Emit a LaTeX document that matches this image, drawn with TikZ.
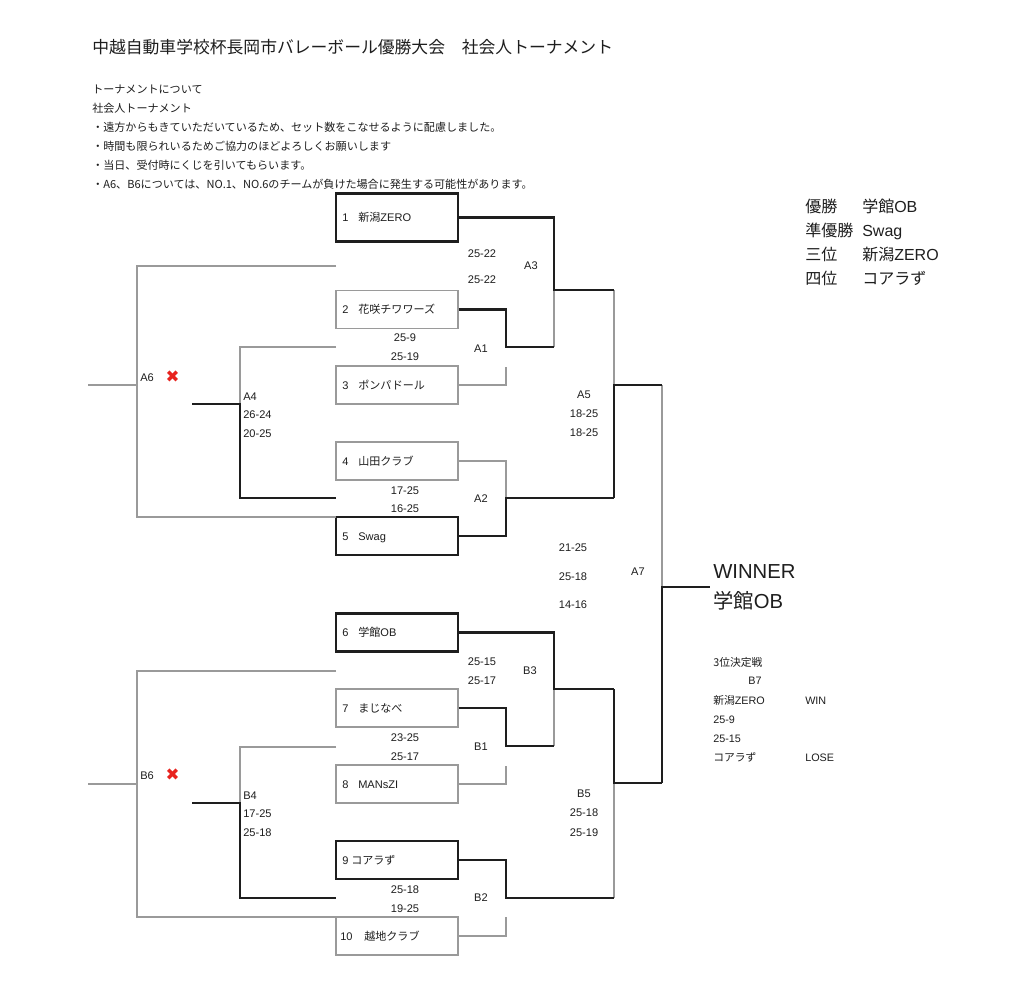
\documentclass[tikz,border=0pt]{standalone}
\usepackage{fontspec}
\setmainfont{Liberation Sans}
\newfontfamily\jp{Noto Sans CJK JP}
\newfontfamily\dv{DejaVu Sans}
\definecolor{lgray}{HTML}{9A9A9A}
\definecolor{ink}{HTML}{1E1E1E}
\definecolor{xred}{HTML}{E8231E}
\tikzset{
  thinbox/.style={draw=lgray, line width=0.8pt, minimum width=91.5pt, minimum height=28.5pt, inner sep=0pt},
  thickbox/.style={draw=ink, line width=1.8pt, minimum width=91.5pt, minimum height=28.5pt, inner sep=0pt},
  thn/.style={draw=lgray, line width=0.8pt},
  thk/.style={draw=ink, line width=1.7pt, line join=miter},
  lbl/.style={inner sep=0pt, text=ink, anchor=base, font=\fontsize{8.3}{10}\selectfont},
  lbw/.style={lbl, anchor=base west},
  note/.style={inner sep=0pt, text=ink, anchor=base west, font=\fontsize{8.3}{10}\selectfont\jp},
  big/.style={inner sep=0pt, text=ink, anchor=base west, font=\fontsize{12}{14}\selectfont},
  small/.style={inner sep=0pt, text=ink, anchor=base west, font=\fontsize{8.1}{9}\selectfont},
  cross/.style={inner sep=0pt, text=xred, font=\fontsize{12.5}{14}\selectfont\dv}
}
\begin{document}
\begin{tikzpicture}[x=0.75pt, y=-0.75pt]
\useasboundingbox (0,0) rectangle (1024,996);
\fill[white] (0,0) rectangle (1024,996);

% ---- heading and notes
\node[inner sep=0pt, anchor=base west, text=ink, font=\fontsize{12.6}{15}\selectfont\jp] (title) at (92,53) {中越自動車学校杯長岡市バレーボール優勝大会　社会人トーナメント};
\node[note] (n1) at (92,93) {トーナメントについて};
\node[note] (n2) at (92,112) {社会人トーナメント};
\node[note] (n3) at (92,131) {・遠方からもきていただいているため、セット数をこなせるように配慮しました。};
\node[note] (n4) at (92,150) {・時間も限られいるためご協力のほどよろしくお願いします};
\node[note] (n5) at (92,169) {・当日、受付時にくじを引いてもらいます。};
\node[note] (n6) at (92,188) {・A6、B6については、NO.1、NO.6のチームが負けた場合に発生する可能性があります。};

% ---- results
\node[big] (r1a) at (805,212) {\jp 優勝};
\node[big] (r1b) at (862,212) {{\jp 学館}OB};
\node[big] (r2a) at (805,236) {\jp 準優勝};
\node[big] (r2b) at (862,236) {Swag};
\node[big] (r3a) at (805,260) {\jp 三位};
\node[big] (r3b) at (862,260) {{\jp 新潟}ZERO};
\node[big] (r4a) at (805,284) {\jp 四位};
\node[big] (r4b) at (862,284) {\jp コアラず};

% ---- team boxes
\node[thickbox, minimum height=36pt] (b1) at (397,217.5) {};
\node[thinbox] (b2) at (397,309.5) {};
\node[thinbox] (b3) at (397,385) {};
\node[thinbox] (b4) at (397,461) {};
\node[thickbox] (b5) at (397,536) {};
\node[thickbox] (b6) at (397,632.5) {};
\node[thinbox] (b7) at (397,708) {};
\node[thinbox] (b8) at (397,784) {};
\node[thickbox] (b9) at (397,860) {};
\node[thinbox] (b10) at (397,936) {};

\node[lbw] (t1n) at (342,221) {1};
\node[lbw] (t1) at (358,221) {{\jp 新潟}ZERO};
\node[lbw] (t2n) at (342,313) {2};
\node[lbw] (t2) at (358,313) {\jp 花咲チワワーズ};
\node[lbw] (t3n) at (342,389) {3};
\node[lbw] (t3) at (358,389) {\jp ポンパドール};
\node[lbw] (t4n) at (342,465) {4};
\node[lbw] (t4) at (358,465) {\jp 山田クラブ};
\node[lbw] (t5n) at (342,540) {5};
\node[lbw] (t5) at (358,540) {Swag};
\node[lbw] (t6n) at (342,636) {6};
\node[lbw] (t6) at (358,636) {{\jp 学館}OB};
\node[lbw] (t7n) at (342,712) {7};
\node[lbw] (t7) at (358,712) {\jp まじなべ};
\node[lbw] (t8n) at (342,788) {8};
\node[lbw] (t8) at (358,788) {MANsZI};
\node[lbw] (t9n) at (342,864) {9};
\node[lbw] (t9) at (351,864) {\jp コアラず};
\node[lbw] (t10n) at (340,940) {10};
\node[lbw] (t10) at (364,940) {\jp 越地クラブ};

% ---- junction coordinates, A block
\coordinate (A3j) at (554,290);
\coordinate (A3b) at (554,347);
\coordinate (A1j) at (506,347);
\coordinate (A1l) at (506,367);
\coordinate (A5t) at (614,290);
\coordinate (A2j) at (506,498);
\coordinate (A5b) at (614,498);
\coordinate (A5j) at (614,385);
\coordinate (A7t) at (662,385);
\coordinate (A7j) at (662,587);
\coordinate (W) at (710,587);
\coordinate (A7b) at (662,783);
% B block
\coordinate (B3j) at (554,689);
\coordinate (B3b) at (554,746);
\coordinate (B1j) at (506,746);
\coordinate (B1l) at (506,766);
\coordinate (B5t) at (614,689);
\coordinate (B5j) at (614,783);
\coordinate (B2j) at (506,898);
\coordinate (B5b) at (614,898);
\coordinate (B2l) at (506,917);
% left side
\coordinate (A6t) at (336,266);
\coordinate (A6tl) at (137,266);
\coordinate (A6bl) at (137,517);
\coordinate (A6br) at (336,517);
\coordinate (A6in) at (88,385);
\coordinate (A6m) at (137,385);
\coordinate (A4t) at (336,347);
\coordinate (A4tl) at (240,347);
\coordinate (A4m) at (240,404);
\coordinate (A4in) at (192,404);
\coordinate (A4bl) at (240,498);
\coordinate (A4b) at (336,498);
\coordinate (B6t) at (336,671);
\coordinate (B6tl) at (137,671);
\coordinate (B6bl) at (137,917);
\coordinate (B6br) at (336,917);
\coordinate (B6in) at (88,784);
\coordinate (B6m) at (137,784);
\coordinate (B4t) at (336,747);
\coordinate (B4tl) at (240,747);
\coordinate (B4m) at (240,803);
\coordinate (B4in) at (192,803);
\coordinate (B4bl) at (240,898);
\coordinate (B4b) at (336,898);

% ---- thin connectors
\draw[thn] (A3j) -- (A3b);
\draw[thn] (b3.east) -| (A1l);
\draw[thn] (b4.east) -| (A2j);
\draw[thn] (A5t) -- (A5j);
\draw[thn] (A7t) -- (A7j);
\draw[thn] (B3j) -- (B3b);
\draw[thn] (b8.east) -| (B1l);
\draw[thn] (b10.east) -| (B2l);
\draw[thn] (B5j) -- (B5b);
\draw[thn] (A6t) -- (A6tl) -- (A6bl) -- (A6br);
\draw[thn] (A6in) -- (A6m);
\draw[thn] (A4t) -- (A4tl) -- (A4m);
\draw[thn] (B6t) -- (B6tl) -- (B6bl) -- (B6br);
\draw[thn] (B6in) -- (B6m);
\draw[thn] (B4t) -- (B4tl) -- (B4m);

% ---- thick connectors
\draw[thk] (b1.east) -| (A3j) -- (A5t);
\draw[thk] (b2.east) -| (A1j) -- (A3b);
\draw[thk] (b5.east) -| (A2j) -- (A5b);
\draw[thk] (A5b) -- (A5j) -- (A7t);
\draw[thk] (A7b) -- (A7j) -- (W);
\draw[thk] (b6.east) -| (B3j) -- (B5t);
\draw[thk] (b7.east) -| (B1j) -- (B3b);
\draw[thk] (b9.east) -| (B2j) -- (B5b);
\draw[thk] (B5t) -- (B5j) -- (A7b);
\draw[thk] (A4in) -- (A4m) -- (A4bl) -- (A4b);
\draw[thk] (B4in) -- (B4m) -- (B4bl) -- (B4b);

% ---- match labels and scores, A
\node[lbl] (s3a) at (482,257) {25-22};
\node[lbl] (s3b) at (482,283) {25-22};
\node[lbl] (mA3) at (531,269) {A3};
\node[lbl] (s1a) at (405,341) {25-9};
\node[lbl] (s1b) at (405,360) {25-19};
\node[lbl] (mA1) at (481,352) {A1};
\node[lbl] (s2a) at (405,494) {17-25};
\node[lbl] (s2b) at (405,512) {16-25};
\node[lbl] (mA2) at (481,502) {A2};
\node[lbl] (mA5) at (584,398) {A5};
\node[lbl] (s5a) at (584,417) {18-25};
\node[lbl] (s5b) at (584,436) {18-25};
\node[lbw] (mA4) at (243,400) {A4};
\node[lbw] (s4a) at (243,418) {26-24};
\node[lbw] (s4b) at (243,437) {20-25};
\node[lbw] (mA6) at (140,381) {A6};
\node[cross] (xA6) at (172.5,376.5) {✖};

% ---- final
\node[lbl] (f1) at (573,551) {21-25};
\node[lbl] (f2) at (573,580) {25-18};
\node[lbl] (f3) at (573,608) {14-16};
\node[lbl] (mA7) at (638,575) {A7};
\node[inner sep=0pt, anchor=base west, text=ink, font=\fontsize{15.2}{18}\selectfont] (win) at (713,578) {WINNER};
\node[inner sep=0pt, anchor=base west, text=ink, font=\fontsize{15.2}{18}\selectfont] (champ) at (713,608) {{\jp 学館}OB};

% ---- match labels and scores, B
\node[lbl] (s7a) at (482,665) {25-15};
\node[lbl] (s7b) at (482,684) {25-17};
\node[lbl] (mB3) at (530,674) {B3};
\node[lbl] (s8a) at (405,741) {23-25};
\node[lbl] (s8b) at (405,760) {25-17};
\node[lbl] (mB1) at (481,750) {B1};
\node[lbl] (s9a) at (405,893) {25-18};
\node[lbl] (s9b) at (405,912) {19-25};
\node[lbl] (mB2) at (481,901) {B2};
\node[lbl] (mB5) at (584,797) {B5};
\node[lbl] (s10a) at (584,816) {25-18};
\node[lbl] (s10b) at (584,836) {25-19};
\node[lbw] (mB4) at (243,799) {B4};
\node[lbw] (s11a) at (243,817) {17-25};
\node[lbw] (s11b) at (243,836) {25-18};
\node[lbw] (mB6) at (140,779) {B6};
\node[cross] (xB6) at (172.5,774.5) {✖};

% ---- third place match
\node[small] (p0) at (713,666) {\jp 3位決定戦};
\node[small, anchor=base] (p1) at (755,684) {B7};
\node[small] (p2) at (713,704) {{\jp 新潟}ZERO};
\node[small] (p3) at (805,704) {WIN};
\node[small] (p4) at (713,723) {25-9};
\node[small] (p5) at (713,742) {25-15};
\node[small] (p6) at (713,761) {\jp コアラず};
\node[small] (p7) at (805,761) {LOSE};
\end{tikzpicture}
\end{document}
